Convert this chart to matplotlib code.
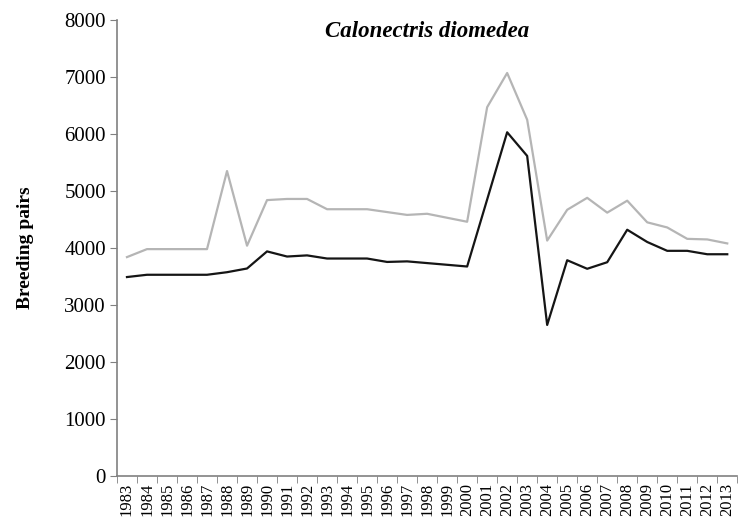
import numpy as np
import matplotlib.pyplot as plt

years = [str(y) for y in range(1983, 2014)]

# upper (grey) series
grey_pairs = [3840, 3980, 3980, 3980, 3980, 5350, 4040, 4840, 4860, 4860,
              4680, 4680, 4680, 4630, 4580, 4600, 4530, 4460, 6470, 7070,
              6250, 4130, 4670, 4880, 4620, 4830, 4450, 4360, 4160, 4150,
              4080]
# lower (black) series
black_pairs = [3490, 3530, 3530, 3530, 3530, 3575, 3640, 3940, 3850, 3870,
               3815, 3815, 3815, 3755, 3765, 3735, 3705, 3675, 4850, 6030,
               5615, 2650, 3785, 3635, 3750, 4320, 4105, 3950, 3950, 3890,
               3890]

plt.rcParams['font.family'] = ['Liberation Serif', 'DejaVu Serif']

fig = plt.figure(figsize=(7.38, 5.19), dpi=100)
ax = fig.add_axes([0.1585, 0.0829, 0.8405, 0.8786])

x = np.arange(len(years))
ax.plot(x, grey_pairs, color='#b5b5b5', lw=1.6)
ax.plot(x, black_pairs, color='#151515', lw=1.6)

ax.set_xlim(-0.5, len(years) - 0.5)
ax.set_ylim(0, 8000)
ax.set_yticks(np.arange(0, 8001, 1000))

ax.set_xticks(x)
ax.set_xticklabels(years, rotation=90, fontsize=12)
ax.set_xticks(np.arange(-0.5, len(years)), minor=True)
ax.tick_params(axis='x', which='major', length=0, pad=5)
ax.tick_params(axis='x', which='minor', length=5, color='#808080', direction='out')
ax.tick_params(axis='y', labelsize=15, length=5, color='#808080', direction='out', pad=3)

for s in ['top', 'right']:
    ax.spines[s].set_visible(False)
for s in ['left', 'bottom']:
    ax.spines[s].set_color('#808080')
    ax.spines[s].set_linewidth(1.2)

ax.set_ylabel('Breeding pairs', fontsize=14, fontweight='bold', labelpad=22)
ax.text(0.5, 0.975, 'Calonectris diomedea', transform=ax.transAxes,
        ha='center', va='center', fontsize=16.5, fontweight='bold', style='italic')

fig.savefig('out.png', dpi=100)
